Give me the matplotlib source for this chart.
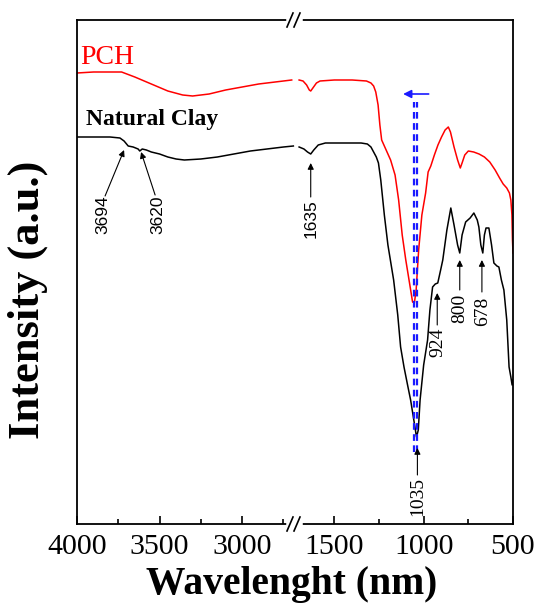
import numpy as np
import matplotlib.pyplot as plt
from matplotlib.lines import Line2D

plt.rcParams['font.family'] = 'Liberation Serif'

# PCH spectrum (red) - high wavenumber part
pch_wn_hi = [4000, 3900, 3800, 3730, 3650, 3550, 3450, 3360, 3300, 3200,
             3100, 3000, 2900, 2800, 2700]
pch_int_hi = [451, 452, 452, 452, 447, 440, 433, 429, 428, 430,
              434, 437, 440, 442, 444]

# PCH spectrum (red) - low wavenumber part
pch_wn_lo = [1697, 1675, 1655, 1640, 1632, 1620, 1600, 1580, 1500, 1400,
             1320, 1295, 1280, 1268, 1255, 1245, 1235, 1210, 1185, 1160,
             1140, 1120, 1100, 1080, 1062, 1052, 1042, 1028, 1010, 989,
             975, 960, 940, 920, 900, 880, 862, 850, 830, 810,
             795, 785, 770, 750, 720, 690, 660, 630, 600, 575,
             555, 535, 520, 512, 506, 503, 500]
pch_int_lo = [444, 443, 439, 434, 433, 436, 441, 443, 444, 444,
              443, 441, 438, 432, 419, 399, 384, 374, 364, 349,
              324, 289, 264, 242, 222, 221, 234, 274, 309, 331,
              352, 358, 369, 379, 387, 394, 397, 392, 377, 364,
              356, 361, 369, 373, 372, 370, 367, 362, 354, 346,
              340, 336, 331, 324, 309, 284, 271]

# Natural clay spectrum (black) - high wavenumber part
clay_wn_hi = [4000, 3900, 3800, 3740, 3715, 3700, 3690, 3660, 3630, 3620,
              3605, 3580, 3550, 3500, 3450, 3400, 3350, 3250, 3150, 3050,
              2950, 2850, 2750, 2690]
clay_int_hi = [387, 387, 387, 386, 383, 380, 378, 377, 375, 373,
               375, 374, 372, 370, 367, 365, 364, 365, 367, 370,
               373, 375, 377, 378]

# Natural clay spectrum (black) - low wavenumber part
clay_wn_lo = [1697, 1670, 1650, 1632, 1615, 1590, 1550, 1450, 1350, 1315,
              1295, 1280, 1265, 1253, 1240, 1220, 1200, 1168, 1145, 1129,
              1110, 1090, 1073, 1055, 1040, 1030, 1020, 1000, 978, 965,
              950, 935, 921, 905, 893, 870, 848, 830, 810, 798,
              785, 765, 740, 719, 700, 691, 680, 669, 660, 651,
              635, 620, 607, 590, 579, 565, 551, 535, 522, 512,
              505, 500]
clay_int_lo = [377, 375, 372, 370, 374, 379, 381, 381, 381, 380,
               377, 372, 367, 361, 344, 309, 279, 244, 209, 177,
               157, 139, 124, 104, 87, 94, 124, 159, 184, 214,
               237, 240, 241, 254, 264, 294, 316, 299, 279, 271,
               289, 302, 306, 311, 304, 297, 279, 271, 289, 296,
               296, 279, 261, 258, 257, 244, 234, 204, 157, 147,
               139, 144]

W, H = 540, 611
blue = '#1a1aff'

fig = plt.figure(figsize=(5.4, 6.11), dpi=100)
axL = fig.add_axes([77/W, 87/H, 218/W, 504/H])
axR = fig.add_axes([295/W, 87/H, 218/W, 504/H], sharey=axL)

axL.plot(pch_wn_hi, pch_int_hi, color='red', lw=1.1)
axL.plot(clay_wn_hi, clay_int_hi, color='black', lw=1.1)
axR.plot(pch_wn_lo, pch_int_lo, color='red', lw=1.1)
axR.plot(clay_wn_lo, clay_int_lo, color='black', lw=1.1)

axL.set_xlim(4000, 2680)
axR.set_xlim(1720, 500)
axL.set_ylim(0, 504)
axL.set_xticks([4000, 3500, 3000])
axL.set_xticks([3750, 3250, 2750], minor=True)
axR.set_xticks([1500, 1000, 500])
axR.set_xticks([1250, 750], minor=True)
axL.set_yticks([])

axL.spines['right'].set_visible(False)
axR.spines['left'].set_visible(False)
for ax in (axL, axR):
    for s in ax.spines.values():
        s.set_linewidth(1.3)
    ax.tick_params(axis='x', which='major', direction='in', length=6, width=1.2,
                   labelsize=21.5, pad=7)
    ax.tick_params(axis='x', which='minor', direction='in', length=3.5, width=1.2)
axR.tick_params(axis='y', left=False, labelleft=False)

# labels
fig.text(292/W, 1 - 594/H, 'Wavelenght (nm)', ha='center', va='baseline',
         fontsize=28.5, fontweight='bold')
fig.text(28/W, 1 - 300/H, 'Intensity (a.u.)', rotation=90, ha='center',
         va='center', fontsize=32, fontweight='bold')
axL.text(0.014, 0.913, 'PCH', transform=axL.transAxes, color='red',
         fontsize=20, va='baseline')
axL.text(0.041, 0.792, 'Natural Clay', transform=axL.transAxes,
         fontsize=17, fontweight='bold', va='baseline')

# peak annotations
arr = dict(arrowstyle='-|>', color='black', lw=0.8, mutation_scale=9,
           shrinkA=0, shrinkB=0)
axL.annotate('', xy=(3715, 374), xytext=(3830, 328), arrowprops=arr)
axL.text(3842, 309, '3694', rotation=90, ha='center', va='center',
         fontsize=12.5, family='Liberation Sans')
axL.annotate('', xy=(3612, 372), xytext=(3527, 329), arrowprops=arr)
axL.text(3509, 309, '3620', rotation=90, ha='center', va='center',
         fontsize=12.5, family='Liberation Sans')
axR.annotate('', xy=(1632, 361), xytext=(1632, 327), arrowprops=arr)
axR.text(1632, 305, '1635', rotation=90, ha='center', va='center',
         fontsize=12.5, family='Liberation Sans')
axR.annotate('', xy=(1035, 76), xytext=(1035, 49), arrowprops=arr)
axR.text(1035, 28, '1035', rotation=90, ha='center', va='center', fontsize=14)
axR.annotate('', xy=(924, 231), xytext=(924, 199), arrowprops=arr)
axR.text(918, 182, '924', rotation=90, ha='center', va='center', fontsize=14)
axR.annotate('', xy=(798, 264), xytext=(798, 234), arrowprops=arr)
axR.text(796, 216, '800', rotation=90, ha='center', va='center', fontsize=14)
axR.annotate('', xy=(674, 264), xytext=(674, 232), arrowprops=arr)
axR.text(669, 213, '678', rotation=90, ha='center', va='center', fontsize=14)

# blue shift arrow
for xb in (1053, 1037):
    axR.plot([xb, xb], [72, 422], color=blue, lw=1.6, ls=(0, (3, 2)))
axR.annotate('', xy=(1115, 430), xytext=(972, 430),
             arrowprops=dict(arrowstyle='-|>', color=blue, lw=1.2,
                             mutation_scale=12, shrinkA=0, shrinkB=0))

# axis break marks
for yp in (20, 524):
    yf = 1 - yp / H
    fig.add_artist(Line2D([289/W, 300/W], [yf, yf], transform=fig.transFigure,
                          color='white', lw=4))
    for cx in (290, 297):
        fig.add_artist(Line2D([(cx - 3)/W, (cx + 3)/W],
                              [yf - 7/H, yf + 7/H],
                              transform=fig.transFigure, color='black', lw=1.2))

fig.savefig('out.png', dpi=100)
